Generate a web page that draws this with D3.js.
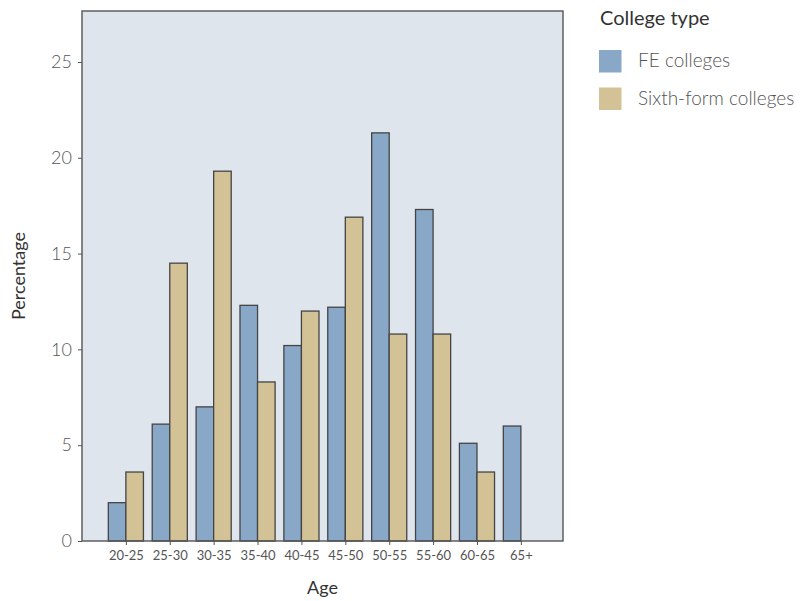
<!DOCTYPE html>
<html><head><meta charset="utf-8">
<script src="https://cdn.jsdelivr.net/npm/d3@7"></script>
<style>body{margin:0;background:#fff}</style>
</head><body>
<svg id="c" width="800" height="601"></svg>
<script>
const ages = ["20-25","25-30","30-35","35-40","40-45","45-50","50-55","55-60","60-65","65+"];
const feValues = [2.0, 6.1, 7.0, 12.3, 10.2, 12.2, 21.3, 17.3, 5.1, 6.0];
const sixthValues = [3.6, 14.5, 19.3, 8.3, 12.0, 16.9, 10.8, 10.8, 3.6, 0];
const seriesNames = ["FE colleges", "Sixth-form colleges"];
const yTicks = [0, 5, 10, 15, 20, 25];
const colors = ["#89a8c8", "#d3c296"];

const font = "'Lato', 'Open Sans', sans-serif";
const svg = d3.select("#c");
const L = 82, R = 563, T = 11, B = 541;

const x = d3.scaleLinear().domain([-1, 9.96]).range([L, R]);
const y = d3.scaleLinear().domain([0, 27.66]).range([B, T]);
const step = x(1) - x(0);
const barW = step * 0.4;

svg.append("rect").attr("x", L).attr("y", T).attr("width", R - L).attr("height", B - T)
  .attr("fill", "#dfe5ed");

const series = [feValues, sixthValues];
series.forEach((vals, si) => {
  svg.append("g").selectAll("rect").data(vals.map((v, i) => ({v, i})).filter(d => d.v > 0))
    .join("rect")
    .attr("x", d => x(d.i) - barW + si * barW)
    .attr("y", d => y(d.v))
    .attr("width", barW)
    .attr("height", d => y(0) - y(d.v))
    .attr("fill", colors[si])
    .attr("stroke", "#444")
    .attr("stroke-width", 1.3);
});

svg.append("rect").attr("x", L).attr("y", T).attr("width", R - L).attr("height", B - T)
  .attr("fill", "none").attr("stroke", "#555").attr("stroke-width", 1.4);

// y axis
const yAxis = svg.append("g").attr("transform", `translate(${L},0)`)
  .call(d3.axisLeft(y).tickValues(yTicks).tickSize(4).tickPadding(6).tickFormat(d3.format("d")));
yAxis.select(".domain").remove();
yAxis.selectAll("line").attr("stroke", "#555");
yAxis.selectAll("text").attr("font-family", font).attr("font-size", 18).attr("fill", "#555").attr("font-weight", 300);

// x axis
const xAxis = svg.append("g").attr("transform", `translate(0,${B})`)
  .call(d3.axisBottom(x).tickValues(d3.range(ages.length)).tickSize(4).tickPadding(6).tickFormat(i => ages[i]));
xAxis.select(".domain").remove();
xAxis.selectAll("line").attr("stroke", "#555");
xAxis.selectAll("text").attr("font-family", font).attr("font-size", 13).attr("fill", "#555");

svg.append("text").attr("x", (L + R) / 2).attr("y", 594).attr("text-anchor", "middle")
  .attr("font-family", font).attr("font-size", 18).attr("fill", "#333").text("Age");
svg.append("text").attr("transform", `translate(25,${(T + B) / 2}) rotate(-90)`).attr("text-anchor", "middle")
  .attr("font-family", font).attr("font-size", 18).attr("fill", "#333").text("Percentage");

// legend
const lg = svg.append("g");
lg.append("text").attr("x", 600).attr("y", 25).attr("font-family", font).attr("font-size", 20)
  .attr("fill", "#333").text("College type");
seriesNames.forEach((n, i) => {
  lg.append("rect").attr("x", 599).attr("y", 50 + i * 37.5).attr("width", 22.5).attr("height", 22.5)
    .attr("fill", colors[i]);
  lg.append("text").attr("x", 638).attr("y", 67 + i * 37.5).attr("font-family", font).attr("font-size", 19)
    .attr("fill", "#555").attr("font-weight", 300).text(n);
});
</script>
</body></html>
